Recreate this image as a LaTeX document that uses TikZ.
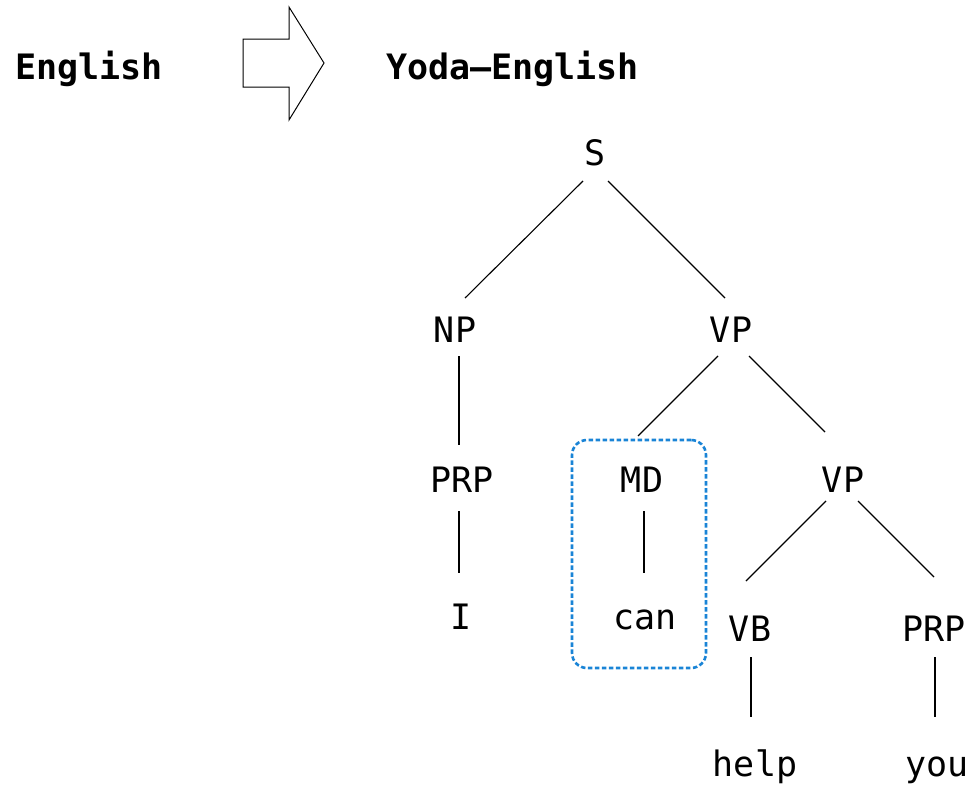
\documentclass[tikz,border=0pt]{standalone}
\usepackage{fontspec}
\setmonofont{DejaVu Sans Mono}
\usetikzlibrary{arrows.meta}
\definecolor{hilite}{HTML}{1A84D6}

\begin{document}
\begin{tikzpicture}[
  x=1pt, y=-1pt,
  tag/.style={font=\ttfamily\fontsize{35}{40}\selectfont, inner sep=0pt, anchor=base},
  title/.style={font=\ttfamily\bfseries\fontsize{35}{40}\selectfont, inner sep=0pt, anchor=base west},
  branch/.style={line width=1.1pt},
  group/.style={draw=hilite, line width=2.6pt, dash pattern=on 4.5pt off 2.5pt, rounded corners=15pt, minimum width=134pt, minimum height=228pt}
]
  \useasboundingbox (0,0) rectangle (973,785);

  % header
  \node[title] (src) at (15,79) {English};
  \node[title] (dst) at (386,79) {Yoda–English};
  \draw[line width=1pt] (243,39) -- (289,39) -- (289,7) -- (324,63) -- (289,120) -- (289,87) -- (243,87) -- cycle;

  % tree
  \node[tag] (s) at (595,165) {S};
  \node[tag] (np) at (455,342) {NP};
  \node[tag] (vp) at (731,342) {VP};
  \node[tag] (prp) at (462,492) {PRP};
  \node[tag] (md) at (642,492) {MD};
  \node[tag] (vpb) at (843,492) {VP};
  \node[tag] (i) at (461,629) {I};
  \node[tag] (can) at (645,629) {can};
  \node[tag] (vb) at (750,641) {VB};
  \node[tag] (prpb) at (934,641) {PRP};
  \node[tag] (help) at (755,776) {help};
  \node[tag] (you) at (937,776) {you};

  \draw[branch] ([shift={(-12,16)}]s.base) -- ([shift={(10,-44)}]np.base);
  \draw[branch] ([shift={(13,16)}]s.base) -- ([shift={(-6,-44)}]vp.base);
  \draw[branch] ([shift={(4,14)}]np.base) -- ([shift={(-3,-47)}]prp.base);
  \draw[branch] ([shift={(-13,14)}]vp.base) -- ([shift={(-4,-56)}]md.base);
  \draw[branch] ([shift={(18,14)}]vp.base) -- ([shift={(-18,-60)}]vpb.base);
  \draw[branch] ([shift={(-3,19)}]prp.base) -- ([shift={(-2,-56)}]i.base);
  \draw[branch] ([shift={(2,19)}]md.base) -- ([shift={(-1,-56)}]can.base);
  \draw[branch] ([shift={(-17,9)}]vpb.base) -- ([shift={(-4,-60)}]vb.base);
  \draw[branch] ([shift={(15,9)}]vpb.base) -- ([shift={(0,-64)}]prpb.base);
  \draw[branch] ([shift={(1,16)}]vb.base) -- ([shift={(-4,-59)}]help.base);
  \draw[branch] ([shift={(1,16)}]prpb.base) -- ([shift={(-2,-59)}]you.base);

  % highlighted modal
  \node[group] (grp) at (639,554) {};
\end{tikzpicture}
\end{document}
